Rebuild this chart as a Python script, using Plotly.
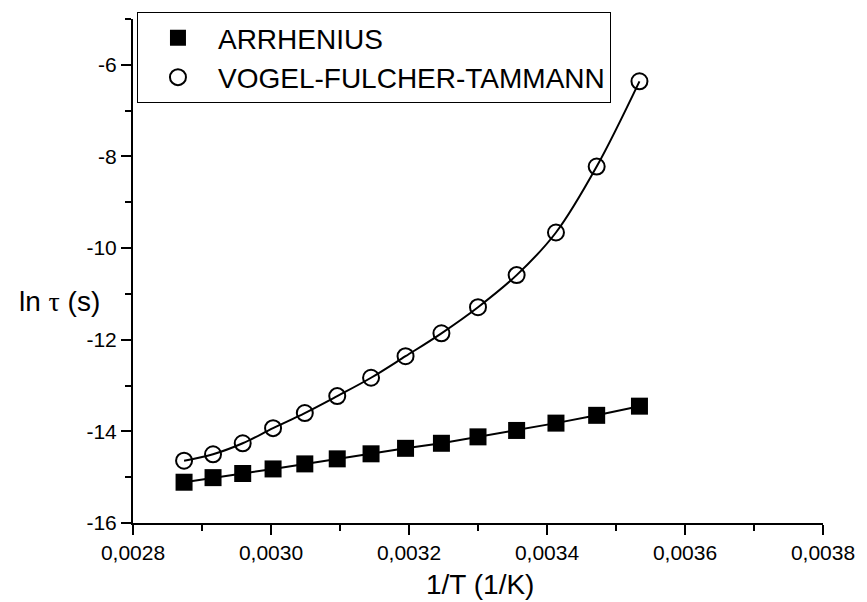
import plotly.graph_objects as go

# 1/T values (1/K)
inv_T = [0.002874, 0.002916, 0.002959, 0.003003, 0.003049, 0.003096, 0.003145,
         0.003195, 0.003247, 0.003300, 0.003356, 0.003413, 0.003472, 0.003534]
# ln tau (s)
arrhenius = [-15.11, -15.01, -14.92, -14.82, -14.71, -14.60, -14.49,
             -14.37, -14.26, -14.12, -13.98, -13.82, -13.65, -13.45]
vft = [-14.64, -14.50, -14.26, -13.93, -13.60, -13.23, -12.83,
       -12.36, -11.86, -11.29, -10.59, -9.66, -8.22, -6.36]

x_tickvals = [0.0028, 0.0030, 0.0032, 0.0034, 0.0036, 0.0038]
x_ticktext = ["0,0028", "0,0030", "0,0032", "0,0034", "0,0036", "0,0038"]
y_tickvals = [-16, -14, -12, -10, -8, -6]
y_ticktext = ["-16", "-14", "-12", "-10", "-8", "-6"]

FONT = "Liberation Sans, Arial, sans-serif"

fig = go.Figure()
fig.add_trace(go.Scatter(x=inv_T, y=arrhenius, mode="lines",
                         line=dict(color="black", width=2), showlegend=False,
                         hoverinfo="skip"))
fig.add_trace(go.Scatter(x=inv_T, y=vft, mode="lines",
                         line=dict(color="black", width=2, shape="spline"),
                         showlegend=False, hoverinfo="skip"))
fig.add_trace(go.Scatter(x=inv_T, y=arrhenius, mode="markers", name="ARRHENIUS",
                         marker=dict(symbol="square", size=17, color="black",
                                     line=dict(width=0))))
fig.add_trace(go.Scatter(x=inv_T, y=vft, mode="markers", name="VOGEL-FULCHER-TAMMANN",
                         marker=dict(symbol="circle-open", size=16, color="black",
                                     line=dict(width=2, color="black"))))

axis_common = dict(showline=True, linecolor="black", linewidth=2, mirror=False,
                   showgrid=False, zeroline=False, ticks="outside",
                   tickcolor="black", tickwidth=2, ticklen=10,
                   tickfont=dict(family=FONT, size=21, color="black"))

fig.update_xaxes(range=[0.0028, 0.0038], tickmode="array", tickvals=x_tickvals,
                 ticktext=x_ticktext,
                 minor=dict(ticks="outside", ticklen=6, tickwidth=2, tickcolor="black",
                            dtick=0.0001, tick0=0.0028, showgrid=False),
                 **axis_common)
fig.update_yaxes(range=[-16, -5], tickmode="array", tickvals=y_tickvals,
                 ticktext=y_ticktext,
                 minor=dict(ticks="outside", ticklen=6, tickwidth=2, tickcolor="black",
                            dtick=1, tick0=-16, showgrid=False),
                 **axis_common)

fig.update_layout(
    width=867, height=602,
    margin=dict(l=133, r=38, t=15, b=79),
    paper_bgcolor="white", plot_bgcolor="white",
    font=dict(family=FONT, color="black"),
    showlegend=True,
    legend=dict(x=0.00575, y=1.0138, xanchor="left", yanchor="top",
                bgcolor="white", bordercolor="black", borderwidth=1,
                font=dict(family=FONT, size=28, color="black"),
                itemwidth=70, tracegroupgap=0),
    annotations=[
        dict(text="ln <span style='font-family:Liberation Serif'>τ</span> (s)",
             xref="paper", yref="paper", x=-0.168, y=0.439,
             xanchor="left", yanchor="middle", showarrow=False,
             font=dict(family=FONT, size=28, color="black")),
        dict(text="1/T (1/K)", xref="paper", yref="paper", x=0.503, y=-0.122,
             xanchor="center", yanchor="middle", showarrow=False,
             font=dict(family=FONT, size=28, color="black")),
    ],
)

fig.write_html("out.html")
